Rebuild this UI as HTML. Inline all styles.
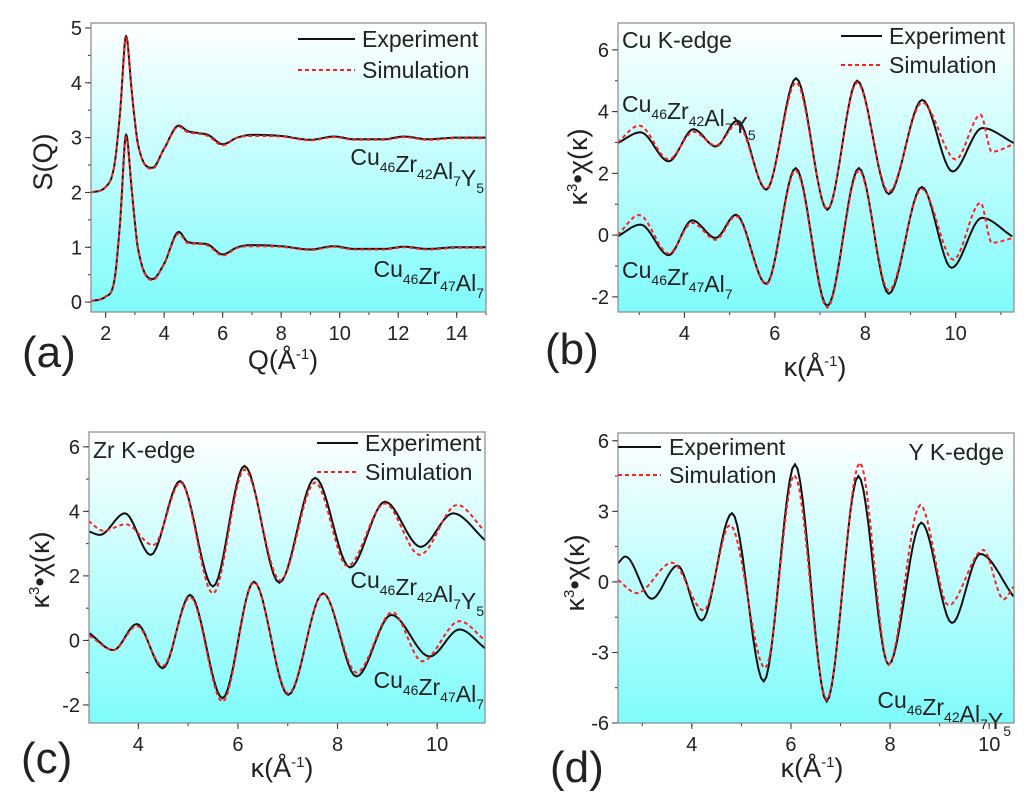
<!DOCTYPE html>
<html><head><meta charset="utf-8"><style>
html,body{margin:0;padding:0;background:#fff;}
svg{display:block;font-family:"Liberation Sans",Arial,sans-serif;}
</style></head><body>
<svg id="fig" width="1024" height="800" viewBox="0 0 1024 800">
<defs>
<linearGradient id="bg" x1="0" y1="0" x2="0" y2="1">
<stop offset="0" stop-color="#ffffff"/><stop offset="1" stop-color="#7ffbfb"/>
</linearGradient>
</defs>
</svg>
<script>
// ---- data ----
const aX = [1.5,2.0,2.3,2.5,2.7,2.9,3.1,3.6,4.0,4.5,4.8,5.2,5.5,6.0,6.5,7.0,8.0,9.0,9.8,10.5,11.5,12.2,13,14,15];
const aTopExp = [2.0,2.1,2.5,3.5,4.85,3.8,2.9,2.45,2.8,3.22,3.12,3.08,3.05,2.88,3.0,3.05,3.03,2.96,3.02,2.97,2.97,3.02,2.97,3.0,3.0];
const aTopSim = [2.0,2.1,2.5,3.5,4.82,3.8,2.9,2.43,2.8,3.2,3.1,3.07,3.03,2.86,3.0,3.03,3.02,2.95,3.01,2.96,2.96,3.01,2.96,2.99,2.99];
const aBotExp = [0.02,0.1,0.4,1.5,3.05,2.0,1.0,0.42,0.7,1.28,1.1,1.07,1.05,0.87,1.0,1.04,1.02,0.96,1.02,0.97,0.97,1.01,0.97,1.0,1.0];
const aBotSim = [0.02,0.1,0.4,1.5,3.0,2.0,1.0,0.4,0.7,1.25,1.08,1.06,1.03,0.85,0.99,1.02,1.01,0.95,1.01,0.96,0.96,1.0,0.96,0.99,0.99];

const bX = [2.52,3.03,3.65,4.2,4.69,5.17,5.81,6.47,7.16,7.82,8.52,9.26,9.93,10.59,11.29];
const bTopExp = [2.98,3.33,2.39,3.43,2.87,3.71,1.47,5.08,0.82,5.0,1.33,4.38,2.06,3.47,2.98];
const bTopSimX = [2.52,3.0,3.65,4.2,4.69,5.17,5.81,6.47,7.16,7.82,8.52,9.26,10.0,10.55,10.8,11.29];
const bTopSim = [3.0,3.55,2.45,3.35,2.9,3.6,1.5,4.95,0.85,4.95,1.4,4.3,2.45,3.9,2.7,2.95];
const bBotExpX = [2.52,3.03,3.65,4.17,4.69,5.14,5.81,6.46,7.16,7.86,8.52,9.25,9.91,10.58,11.25];
const bBotExp = [-0.04,0.34,-0.65,0.48,-0.09,0.66,-1.58,2.17,-2.3,2.17,-1.9,1.56,-1.06,0.56,-0.04];
const bBotSimX = [2.52,3.0,3.65,4.17,4.69,5.14,5.81,6.46,7.16,7.86,8.52,9.25,9.95,10.55,10.8,11.25];
const bBotSim = [0.0,0.65,-0.6,0.4,-0.15,0.62,-1.6,2.1,-2.35,2.1,-1.8,1.5,-0.8,1.05,-0.25,-0.1];

const cTopExpX = [3.02,3.23,3.73,4.25,4.84,5.5,6.13,6.83,7.55,8.25,8.95,9.67,10.32,10.96];
const cTopExp = [3.37,3.27,3.94,2.65,4.94,1.67,5.41,1.79,5.04,2.26,4.3,2.9,3.94,3.11];
const cTopSimX = [3.0,3.3,3.75,4.3,4.85,5.5,6.13,6.85,7.55,8.2,8.95,9.65,10.4,10.95];
const cTopSim = [3.7,3.4,3.6,2.95,4.9,1.45,5.3,1.85,4.9,2.3,4.25,2.65,4.2,3.4];
const cBotExpX = [3.02,3.5,3.97,4.49,5.04,5.69,6.32,7.01,7.71,8.38,9.08,9.85,10.45,10.96];
const cBotExp = [0.22,-0.3,0.51,-0.86,1.41,-1.79,1.82,-1.69,1.46,-1.12,0.79,-0.5,0.34,-0.24];
const cBotSimX = [3.02,3.5,3.97,4.49,5.04,5.69,6.32,7.01,7.71,8.38,9.1,9.7,10.45,10.96];
const cBotSim = [0.15,-0.3,0.45,-0.8,1.35,-1.9,1.8,-1.65,1.45,-1.0,0.88,-0.65,0.6,0.0];

const dExpX = [2.51,2.66,3.19,3.71,4.2,4.81,5.45,6.08,6.72,7.36,7.97,8.63,9.25,9.82,10.49];
const dExp = [0.79,1.08,-0.72,0.69,-1.64,2.92,-4.23,5.0,-5.08,4.5,-3.52,2.52,-1.75,1.19,-0.62];
const dSimX = [2.51,2.89,3.6,4.24,4.77,5.48,6.07,6.72,7.39,7.97,8.61,9.18,9.88,10.29,10.49];
const dSim = [0.08,-0.48,0.82,-1.22,2.42,-3.67,4.54,-5.0,5.07,-3.52,3.27,-1.0,1.36,-0.74,-0.2];

const NS = "http://www.w3.org/2000/svg";
const svg = document.getElementById('fig');
function mk(tag, attrs, parent){const e=document.createElementNS(NS,tag);for(const k in attrs)e.setAttribute(k,attrs[k]);(parent||svg).appendChild(e);return e;}

function monotone(xs, ys){
  const n=xs.length, d=[], m=[];
  for(let i=0;i<n-1;i++) d.push((ys[i+1]-ys[i])/(xs[i+1]-xs[i]));
  m[0]=d[0]; m[n-1]=d[n-2];
  for(let i=1;i<n-1;i++){ m[i]=(d[i-1]*d[i]<=0)?0:(d[i-1]+d[i])/2; }
  for(let i=0;i<n-1;i++){ if(d[i]===0){m[i]=0;m[i+1]=0;continue;}
    const a=m[i]/d[i], b=m[i+1]/d[i], s=a*a+b*b; if(s>9){const t=3/Math.sqrt(s);m[i]=t*a*d[i];m[i+1]=t*b*d[i];}}
  const pts=[];
  for(let i=0;i<n-1;i++){const h=xs[i+1]-xs[i];
    for(let j=0;j<12;j++){const t=j/12,t2=t*t,t3=t2*t;
      const y=(2*t3-3*t2+1)*ys[i]+(t3-2*t2+t)*h*m[i]+(-2*t3+3*t2)*ys[i+1]+(t3-t2)*h*m[i+1];
      pts.push([xs[i]+t*h,y]);}}
  pts.push([xs[n-1],ys[n-1]]);
  return pts;
}

function panel(p){
  const g=mk('g',{});
  
  
  const sx=v=>p.L+(v-p.x0)/(p.x1-p.x0)*(p.R-p.L);
  const sy=v=>p.B-(v-p.y0)/(p.y1-p.y0)*(p.B-p.T);
  const bgr=mk('rect',{x:p.L,y:p.T,width:p.R-p.L,height:p.B-p.T,fill:'url(#bg)'},g);
  
  
  const tg=mk('g',{stroke:'#333','stroke-width':1},g);
  for(let v=p.xMinorStart;v<=p.x1+1e-9;v+=p.xMinor){const X=sx(v);mk('line',{x1:X,y1:p.B,x2:X,y2:p.B+3},tg);}
  for(let v=p.yMinorStart;v<=p.y1+1e-9;v+=p.yMinor){if(v<p.y0)continue;const Y=sy(v);mk('line',{x1:p.L,y1:Y,x2:p.L-3,y2:Y},tg);}
  p.xTicks.forEach(v=>{const X=sx(v);mk('line',{x1:X,y1:p.B,x2:X,y2:p.B+6},tg);
    const t=mk('text',{x:X,y:p.B+28,'font-size':20,'text-anchor':'middle',fill:'#222'},g);t.textContent=v;
    });
  p.yTicks.forEach(v=>{const Y=sy(v);mk('line',{x1:p.L,y1:Y,x2:p.L-6,y2:Y},tg);
    const t=mk('text',{x:p.L-9,y:Y+7,'font-size':20,'text-anchor':'end',fill:'#222'},g);t.textContent=v;
    });
  const cp='cp'+p.name; const c=mk('clipPath',{id:cp},g); mk('rect',{x:p.L,y:p.T,width:p.R-p.L,height:p.B-p.T},c);
  p.series.forEach(s=>{
    const pts=monotone(s.x,s.y);
    const d=pts.map((q,i)=>(i?'L':'M')+sx(q[0]).toFixed(1)+' '+sy(q[1]).toFixed(1)).join(' ');
    const path=mk('path',{d:d,fill:'none',stroke:s.sim?'#ff2020':'#111','stroke-width':2,'stroke-dasharray':s.sim?'4 3':'none','clip-path':'url(#'+cp+')'},g);
    
    
  });
  const fr=mk('rect',{x:p.L,y:p.T,width:p.R-p.L,height:p.B-p.T,fill:'none',stroke:'#888','stroke-width':1.2},g);
  
  return g;
}
function txt(x,y,s,size,anchor,name){const t=mk('text',{x:x,y:y,'font-size':size,'text-anchor':anchor||'start',fill:'#222'});t.innerHTML=s;
  return t;}
function legend(x1,x2,tx,y1,y2,name){
  const g=mk('g',{});
  
  
  mk('line',{x1:x1,y1:y1,x2:x2,y2:y1,stroke:'#111','stroke-width':2},g);
  mk('line',{x1:x1,y1:y2,x2:x2,y2:y2,stroke:'#ff2020','stroke-width':2,'stroke-dasharray':'4 3'},g);
  const a=mk('text',{x:tx,y:y1+8,'font-size':23,fill:'#222'},g);a.textContent='Experiment';
  
  const b=mk('text',{x:tx,y:y2+8,'font-size':23,fill:'#222'},g);b.textContent='Simulation';
  
}
const sub=n=>'<tspan font-size="14" dy="7">'+n+'</tspan><tspan dy="-7"></tspan>';
const alloyY='Cu'+sub('46')+'Zr'+sub('42')+'Al'+sub('7')+'Y'+sub('5');
const alloyA='Cu'+sub('46')+'Zr'+sub('47')+'Al'+sub('7');
const kchi='κ<tspan font-size="15" dy="-10">3</tspan><tspan dy="10">•χ(κ)</tspan>';
const kaxis='κ(Å<tspan font-size="15" dy="-10">-1</tspan><tspan dy="10">)</tspan>';

// (a)
panel({name:'panel-a',L:91,R:486,T:23,B:312,x0:1.5,x1:15,y0:-0.18,y1:5.09,
  xTicks:[2,4,6,8,10,12,14],yTicks:[0,1,2,3,4,5],xMinor:1,xMinorStart:2,yMinor:0.5,yMinorStart:0,
  series:[{x:aX,y:aTopExp,name:'a-top-experiment'},{x:aX,y:aTopSim,sim:1,name:'a-top-simulation'},
          {x:aX,y:aBotExp,name:'a-bottom-experiment'},{x:aX,y:aBotSim,sim:1,name:'a-bottom-simulation'}]});
legend(298,355,362,39,70,'legend-a');
txt(484,165,alloyY,23,'end','label-a-cu46zr42al7y5');
txt(484,277,alloyA,23,'end','label-a-cu46zr47al7');
txt(22,367,'(a)',44,'start','panel-label-a');
txt(283,369,'Q(Å<tspan font-size="15" dy="-10">-1</tspan><tspan dy="10">)</tspan>',27,'middle','x-axis-title-a');
txt(0,0,'S(Q)',27,'middle','y-axis-title-a').setAttribute('transform','translate(52,162) rotate(-90)');

// (b)
panel({name:'panel-b',L:618,R:1014,T:23,B:312,x0:2.53,x1:11.29,y0:-2.49,y1:6.87,
  xTicks:[4,6,8,10],yTicks:[-2,0,2,4,6],xMinor:1,xMinorStart:3,yMinor:1,yMinorStart:-2,
  series:[{x:bX,y:bTopExp,name:'b-top-experiment'},{x:bTopSimX,y:bTopSim,sim:1,name:'b-top-simulation'},
          {x:bBotExpX,y:bBotExp,name:'b-bottom-experiment'},{x:bBotSimX,y:bBotSim,sim:1,name:'b-bottom-simulation'}]});
legend(841,882,889,36,65,'legend-b');
txt(622,48,'Cu K-edge',23,'start','edge-label-b');
txt(622,112,alloyY,23,'start','label-b-cu46zr42al7y5');
txt(622,278,alloyA,23,'start','label-b-cu46zr47al7');
txt(545,364,'(b)',44,'start','panel-label-b');
txt(815,376,kaxis,27,'middle','x-axis-title-b');
txt(0,0,kchi,27,'middle','y-axis-title-b').setAttribute('transform','translate(587,167) rotate(-90)');

// (c)
panel({name:'panel-c',L:89,R:485,T:432,B:723,x0:3.01,x1:10.96,y0:-2.56,y1:6.46,
  xTicks:[4,6,8,10],yTicks:[-2,0,2,4,6],xMinor:1,xMinorStart:4,yMinor:1,yMinorStart:-2,
  series:[{x:cTopExpX,y:cTopExp,name:'c-top-experiment'},{x:cTopSimX,y:cTopSim,sim:1,name:'c-top-simulation'},
          {x:cBotExpX,y:cBotExp,name:'c-bottom-experiment'},{x:cBotSimX,y:cBotSim,sim:1,name:'c-bottom-simulation'}]});
legend(317,358,365,443,472,'legend-c');
txt(93,458,'Zr K-edge',23,'start','edge-label-c');
txt(484,588,alloyY,23,'end','label-c-cu46zr42al7y5');
txt(484,688,alloyA,23,'end','label-c-cu46zr47al7');
txt(21,773,'(c)',44,'start','panel-label-c');
txt(282,777,kaxis,27,'middle','x-axis-title-c');
txt(0,0,kchi,27,'middle','y-axis-title-c').setAttribute('transform','translate(49,570) rotate(-90)');

// (d)
panel({name:'panel-d',L:618,R:1014,T:433,B:723,x0:2.51,x1:10.5,y0:-6,y1:6.33,
  xTicks:[4,6,8,10],yTicks:[-6,-3,0,3,6],xMinor:1,xMinorStart:3,yMinor:1.5,yMinorStart:-6,
  series:[{x:dExpX,y:dExp,name:'d-experiment'},{x:dSimX,y:dSim,sim:1,name:'d-simulation'}]});
legend(618,661,669,447,475,'legend-d');
txt(1004,460,'Y K-edge',23,'end','edge-label-d');
txt(1011,708,alloyY,23,'end','label-d-cu46zr42al7y5');
txt(550,782,'(d)',44,'start','panel-label-d');
txt(812,777,kaxis,27,'middle','x-axis-title-d');
txt(0,0,kchi,27,'middle','y-axis-title-d').setAttribute('transform','translate(584,573) rotate(-90)');
</script>
</body></html>
